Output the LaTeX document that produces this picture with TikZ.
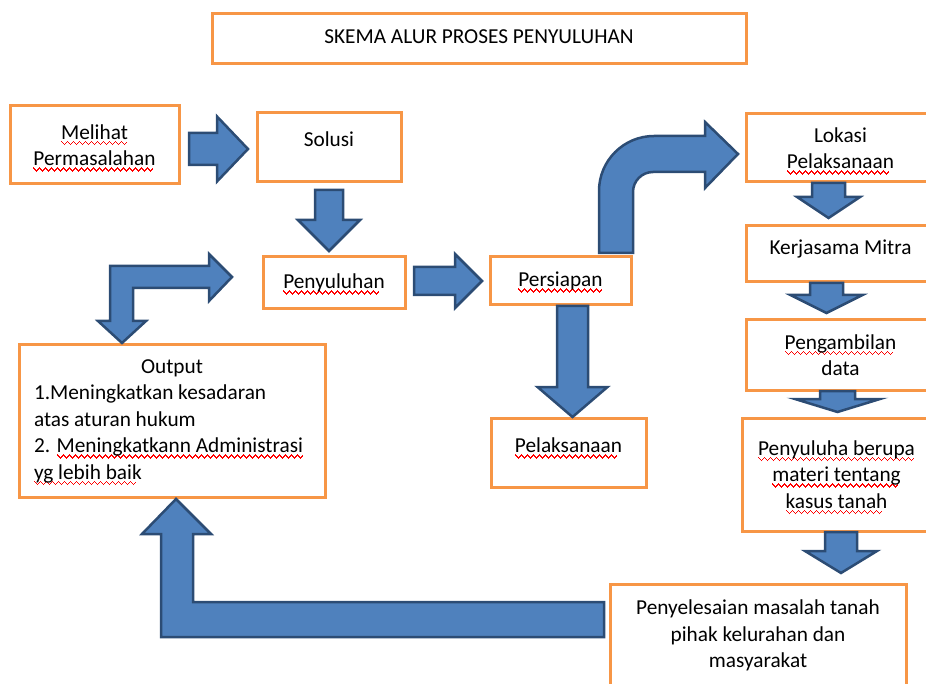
\documentclass[tikz,border=0pt]{standalone}
\usepackage{fontspec}
\setmainfont{Carlito}
\usetikzlibrary{positioning}
\usetikzlibrary{calc}

\definecolor{boxorange}{HTML}{F79646}
\definecolor{arrowblue}{HTML}{4F81BD}
\definecolor{arrowedge}{HTML}{2C4C74}
\definecolor{spellred}{HTML}{FF0000}

% red wavy underline
\newsavebox\spellbox
\newcommand\wavepiece{\rule[-3pt]{1pt}{1.5pt}\rule[-4pt]{1pt}{1.5pt}\rule[-5pt]{1pt}{1.5pt}%
  \rule[-6pt]{1pt}{1.5pt}\rule[-5pt]{1pt}{1.5pt}\rule[-4pt]{1pt}{1.5pt}}
\newcommand\spellmark[1]{\sbox\spellbox{#1}%
  \mbox{\rlap{\smash{\color{spellred}\leaders\hbox{\wavepiece}\hskip\wd\spellbox}}\usebox\spellbox}}

% block arrow: start, tip, shaft half width, head half width, head length
\newcommand\fatarrow[5]{%
  \coordinate (hb) at ($(#2)!#5!(#1)$);
  \filldraw[bigarrow] ($(#1)!#3!90:(#2)$) -- ($(hb)!#3!90:(#2)$) -- ($(hb)!#4!90:(#2)$) -- (#2)
    -- ($(hb)!#4!-90:(#2)$) -- ($(hb)!#3!-90:(#2)$) -- ($(#1)!#3!-90:(#2)$) -- cycle;
}

\begin{document}
\begin{tikzpicture}[x=1pt, y=-1pt]
    \tikzstyle{box} = [draw=boxorange, line width=3pt, rectangle, outer sep=0pt,
    inner sep=3pt, align=center, font=\fontsize{21.3pt}{26.5pt}\selectfont];
    \tikzstyle{bigarrow} = [fill=arrowblue, draw=arrowedge, line width=2.5pt, line join=miter];
    \useasboundingbox (0,0) rectangle (926,684);
    \clip (0,0) rectangle (926,684);

    \node [box, minimum width=534pt, minimum height=50pt, text depth=4pt] (title) at (479,39) {SKEMA ALUR PROSES PENYULUHAN};
    \node [box, minimum width=169pt, minimum height=78pt] (melihat) at (94.5,145) {\spellmark{Melihat}\\\spellmark{Permasalahan}};
    \node [box, minimum width=144pt, minimum height=69pt, text depth=16pt] (solusi) at (329,147.5) {Solusi};
    \node [box, minimum width=142pt, minimum height=52pt] (penyuluhan) at (334,283) {\spellmark{Penyuluhan}};
    \node [box, minimum width=141pt, minimum height=48pt] (persiapan) at (560.5,281) {\spellmark{Persiapan}};
    \node [box, minimum width=155pt, minimum height=69pt, text depth=14pt] (pelaksanaan) at (568.5,452.5) {\spellmark{Pelaksanaan}};
    \node [box, minimum width=189pt, minimum height=68pt] (lokasi) at (840.5,148) {Lokasi\\\spellmark{Pelaksanaan}};
    \node [box, minimum width=189pt, minimum height=56pt, text depth=14pt, below=44pt of lokasi] (kerjasama) {Kerjasama Mitra};
    \node [box, minimum width=189pt, minimum height=70pt, below=38pt of kerjasama] (pengambilan) {\spellmark{Pengambilan}\\data};
    \node [box, minimum width=189pt, minimum height=113pt, below=28pt of pengambilan, xshift=-4pt] (penyuluha)
        {\spellmark{Penyuluha berupa}\\\spellmark{materi tentang}\\\spellmark{kasus tanah}};
    \node [box, minimum width=296pt, minimum height=103pt] (penyelesaian) at (758,635.5)
        {Penyelesaian masalah tanah\\pihak kelurahan dan\\masyarakat};
    \node [box, minimum width=306pt, minimum height=152pt, inner xsep=15pt, align=left] (output) at (172,421)
        {\makebox[276pt]{Output}\\1.Meningkatkan kesadaran\\atas aturan hukum\\2. \spellmark{Meningkatkann Administrasi}\\\spellmark{yg lebih baik}};

    % straight arrows
    \coordinate (a1s) at ($(melihat.east)+(10,4)$);
    \coordinate (a1e) at ($(solusi.west)+(-9,1.5)$);
    \fatarrow{a1s}{a1e}{16pt}{32.5pt}{31pt}
    \coordinate (a2s) at ($(solusi.south)+(0,8)$);
    \coordinate (a2e) at ($(a2s |- penyuluhan.north)+(0,-6)$);
    \fatarrow{a2s}{a2e}{14pt}{31pt}{31pt}
    \coordinate (a3s) at ($(penyuluhan.east)+(9,-2)$);
    \coordinate (a3e) at ($(a3s -| persiapan.west)+(-8,0)$);
    \fatarrow{a3s}{a3e}{14pt}{27pt}{27pt}
    \coordinate (a4s) at ($(persiapan.south)+(12,1)$);
    \coordinate (a4e) at ($(a4s |- pelaksanaan.north)+(0,-1)$);
    \fatarrow{a4s}{a4e}{15.5pt}{35pt}{30pt}
    \coordinate (a5s) at ($(lokasi.south)+(-12,1)$);
    \coordinate (a5e) at ($(a5s |- kerjasama.north)+(0,-8)$);
    \fatarrow{a5s}{a5e}{16.5pt}{31.5pt}{21pt}
    \coordinate (a6s) at ($(kerjasama.south)+(-14,1)$);
    \coordinate (a6e) at ($(a6s |- pengambilan.north)+(0,-7)$);
    \fatarrow{a6s}{a6e}{16.5pt}{36pt}{18pt}
    \coordinate (a7s) at ($(pengambilan.south)+(-3,1)$);
    \coordinate (a7e) at ($(a7s |- penyuluha.north)+(0,-6)$);
    \fatarrow{a7s}{a7e}{17.5pt}{42.5pt}{13pt}
    \coordinate (a8s) at ($(penyuluha.south)+(4.5,1)$);
    \coordinate (a8e) at ($(a8s |- penyelesaian.north)+(0,-11)$);
    \fatarrow{a8s}{a8e}{16pt}{36pt}{22pt}

    % bent arrow persiapan -> lokasi
    \begin{scope}[shift={(persiapan.north east)}]
        \filldraw[bigarrow] (-32,-4) -- (-32,-66) arc[start angle=180, end angle=270, radius=55]
            -- (74,-121) -- (74,-135) -- (107,-103) -- (74,-69) -- (74,-85) -- (22,-85)
            arc[start angle=270, end angle=180, radius=20] -- (2,-4) -- cycle;
    \end{scope}
    % bent arrow output <-> penyuluhan
    \begin{scope}[shift={(output.north west)}]
        \filldraw[bigarrow] (91,-79) -- (190,-79) -- (190,-91) -- (213,-68) -- (190,-44) -- (190,-57)
            -- (114,-57) -- (114,-24) -- (127,-24) -- (103,-2) -- (79,-24) -- (91,-24) -- cycle;
    \end{scope}
    % bent arrow penyelesaian -> output
    \begin{scope}[shift={(output.south)}]
        \filldraw[bigarrow] (-11,140) -- (432,140) -- (432,105) -- (21,105) -- (21,37) -- (39,37)
            -- (4,2) -- (-30,37) -- (-11,37) -- cycle;
    \end{scope}
\end{tikzpicture}
\end{document}
